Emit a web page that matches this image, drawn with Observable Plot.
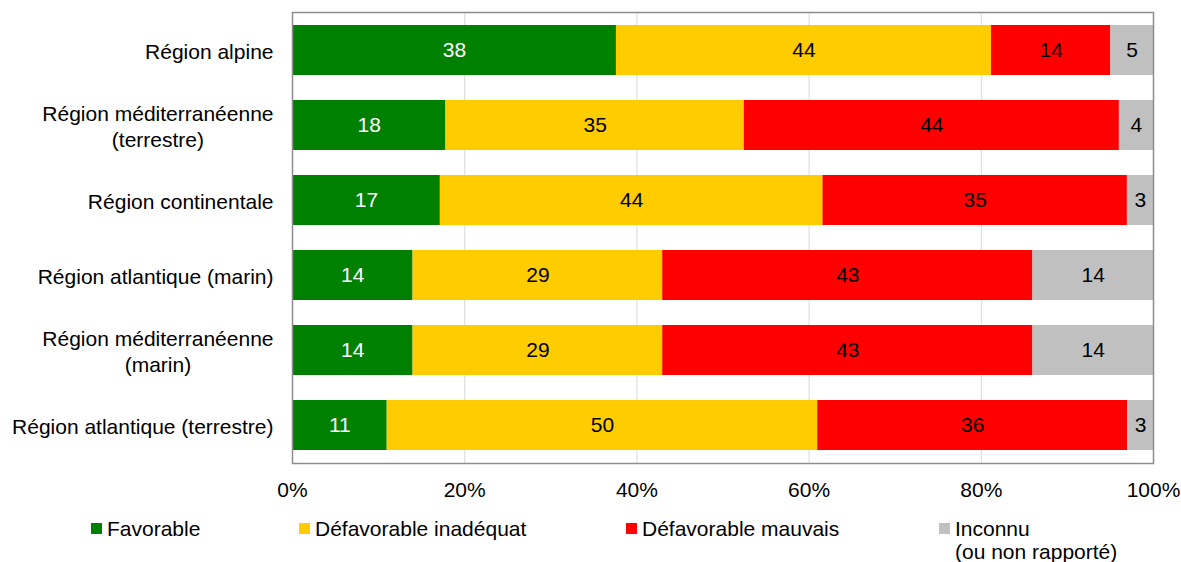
<!DOCTYPE html>
<html>
<head>
<meta charset="utf-8">
<script src="https://cdn.jsdelivr.net/npm/d3@7"></script>
<script src="https://cdn.jsdelivr.net/npm/@observablehq/plot@0.6"></script>
<style>
  html, body { margin: 0; padding: 0; background: #fff; }
  body { width: 1181px; height: 562px; position: relative; overflow: hidden; font-family: "Liberation Sans", Arial, sans-serif; }
  #chart svg { display: block; }
  #legend { position: absolute; left: 0; top: 0; width: 1181px; height: 562px; pointer-events: none; }
  .item { position: absolute; top: 517px; font-size: 21px; line-height: 23px; color: #000; display: flex; align-items: flex-start; }
  .sw { width: 11px; height: 11px; margin-top: 6px; margin-right: 5px; flex: none; }
</style>
</head>
<body>
<div id="chart"></div>
<div id="legend"></div>
<script>
const regions = [
  "Région alpine",
  "Région méditerranéenne\n(terrestre)",
  "Région continentale",
  "Région atlantique (marin)",
  "Région méditerranéenne\n(marin)",
  "Région atlantique (terrestre)"
];
const categories = ["Favorable", "Défavorable inadéquat", "Défavorable mauvais", "Inconnu\n(ou non rapporté)"];
const favorable = [38, 18, 17, 14, 14, 11];
const inadequat = [44, 35, 44, 29, 29, 50];
const mauvais   = [14, 44, 35, 43, 43, 36];
const inconnu   = [5, 4, 3, 14, 14, 3];
const colors = ["#008000", "#FFCC00", "#FF0000", "#C0C0C0"];
const xTicks = [0, 0.2, 0.4, 0.6, 0.8, 1];

const series = [favorable, inadequat, mauvais, inconnu];
const data = [];
regions.forEach((r, i) => categories.forEach((c, j) => data.push({region: r, category: c, value: series[j][i]})));

const stackOpts = {x: "value", y: "region", z: "category", offset: "normalize", order: categories};

const chart = Plot.plot({
  width: 1181,
  height: 505,
  marginLeft: 292,
  marginRight: 28,
  marginTop: 12,
  marginBottom: 42,
  style: {fontFamily: "'Liberation Sans', Arial, sans-serif", fontSize: "21px", color: "#000", background: "#fff"},
  x: {domain: [0, 1], ticks: xTicks},
  y: {domain: regions, paddingInner: 0.33, paddingOuter: 0.166},
  color: {domain: categories, range: colors},
  marks: [
    Plot.gridX(xTicks, {stroke: "#d9d9d9", strokeOpacity: 1}),
    Plot.barX(data, Plot.stackX({...stackOpts, fill: "category"})),
    Plot.text(data, Plot.stackX({...stackOpts, text: d => d.category === "Favorable" ? String(d.value) : "", fill: "white", fontSize: 21})),
    Plot.text(data, Plot.stackX({...stackOpts, text: d => d.category !== "Favorable" ? String(d.value) : "", fill: "black", fontSize: 21})),
    Plot.frame({stroke: "#8c8c8c", strokeWidth: 1.5}),
    Plot.axisX({ticks: xTicks, tickFormat: d => Math.round(d * 100) + "%", tickSize: 0, tickPadding: 19, fontSize: 21, label: null}),
    Plot.axisY({tickSize: 0, tickPadding: 19, fontSize: 21, lineHeight: 1.24, label: null})
  ]
});
document.getElementById("chart").appendChild(chart);

// Center the lines of multi-line y labels within their right-aligned block
chart.querySelectorAll('g[aria-label="y-axis tick label"] text').forEach(t => {
  const spans = t.querySelectorAll("tspan");
  if (spans.length < 2) return;
  let maxW = 0;
  spans.forEach(s => { maxW = Math.max(maxW, s.getComputedTextLength()); });
  t.setAttribute("text-anchor", "middle");
  spans.forEach(s => {
    const x0 = parseFloat(s.getAttribute("x") || "0");
    s.setAttribute("x", x0 - maxW / 2);
  });
});

// Legend
const legendX = [91, 299, 626, 939];
const legend = document.getElementById("legend");
categories.forEach((c, i) => {
  const item = document.createElement("div");
  item.className = "item";
  item.style.left = legendX[i] + "px";
  const sw = document.createElement("div");
  sw.className = "sw";
  sw.style.background = colors[i];
  const label = document.createElement("div");
  label.innerHTML = c.split("\n").join("<br>");
  item.appendChild(sw);
  item.appendChild(label);
  legend.appendChild(item);
});
</script>
</body>
</html>
